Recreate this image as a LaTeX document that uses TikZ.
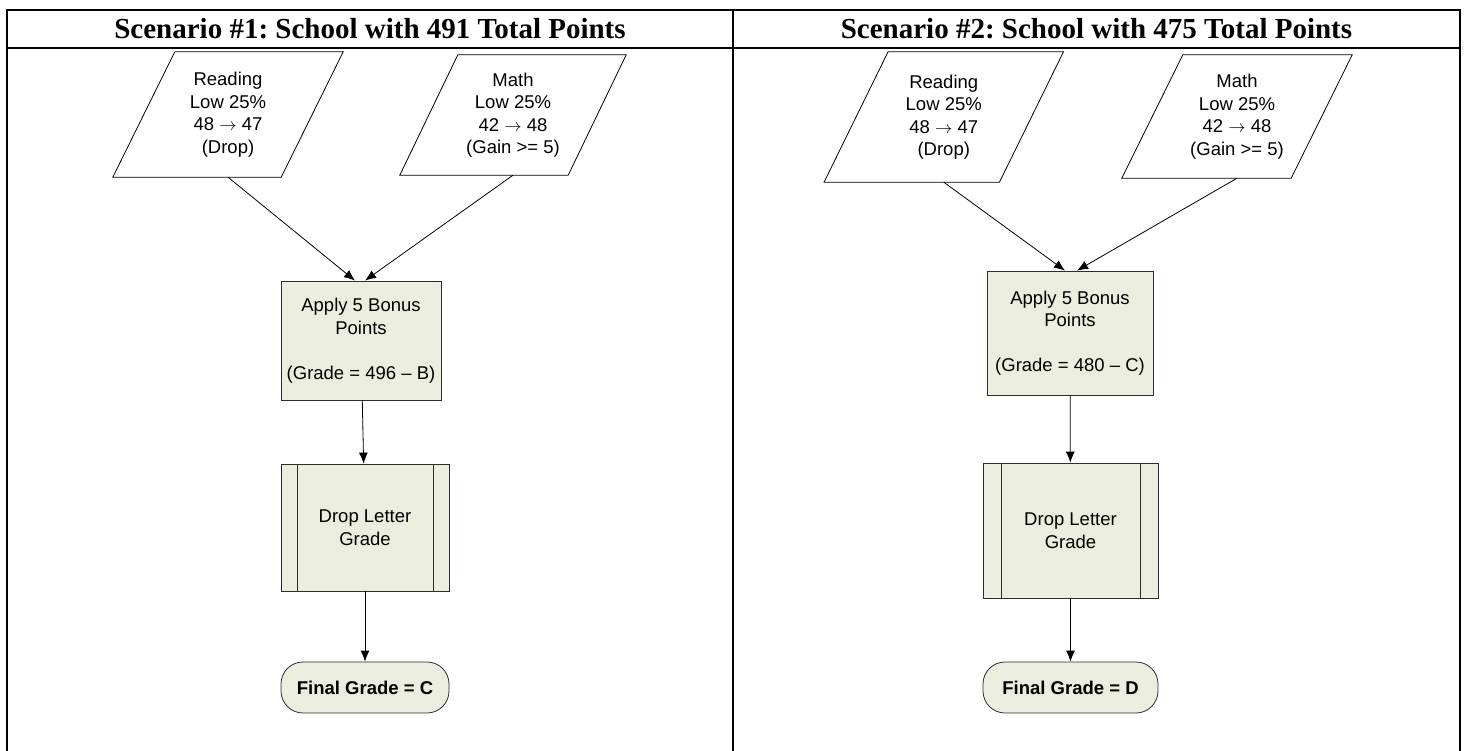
\documentclass[tikz,border=0pt]{standalone}
\usepackage{fontspec}
\setmainfont{Liberation Sans}
\newfontfamily\headfont{Liberation Serif}
\usetikzlibrary{arrows.meta}
\definecolor{boxfill}{RGB}{235,238,222}
\definecolor{boxline}{RGB}{45,45,45}
\frenchspacing
\tikzset{>={Latex[length=11pt,width=9pt]}}
\tikzset{
    every node/.style={font={\fontsize{18.5}{22.5}\selectfont}, align=center, inner sep=0pt},
    head/.style={font={\headfont\bfseries\fontsize{29}{32}\selectfont}, anchor=base},
    databox/.style={rectangle},
    procbox/.style={draw=boxline, fill=boxfill, line width=0.8pt},
    subbox/.style={procbox, path picture={
        \draw[boxline, line width=0.8pt] ([xshift=#1]path picture bounding box.north west) -- ([xshift=#1]path picture bounding box.south west);
        \draw[boxline, line width=0.8pt] ([xshift=-#1]path picture bounding box.north east) -- ([xshift=-#1]path picture bounding box.south east);
    }},
    endbox/.style={procbox, rounded corners=22pt, font={\bfseries\fontsize{18.5}{22.5}\selectfont}},
    flow/.style={->, line width=0.8pt},
    grid/.style={line width=2pt}
}
% slanted outline round a data node
\newcommand{\slantbox}[2]{%
    \draw[line width=0.8pt] ([xshift=#2]#1.north west) -- ([xshift=#2]#1.north east)
        -- ([xshift=-#2]#1.south east) -- ([xshift=-#2]#1.south west) -- cycle;}

\begin{document}
\begin{tikzpicture}[x=1pt, y=-1pt]
\useasboundingbox (0,0) rectangle (1466,751);

% table
\draw[grid] (7,751) -- (7,10) -- (1460,10) -- (1460,751);
\draw[grid] (7,48) -- (1460,48);
\draw[grid] (733,10) -- (733,751);

\node[head] (t1) at (370,39) {Scenario \#1: School with 491 Total Points};
\node[head] (t2) at (1096.5,39) {Scenario \#2: School with 475 Total Points};

% scenario 1
\begin{scope}
    \node[databox, minimum width=168pt, minimum height=125pt] (rd1) at (228,114.5) {Reading\\Low 25\%\\48 $\rightarrow$ 47\\(Drop)};
    \slantbox{rd1}{31pt}
    \node[databox, minimum width=168pt, minimum height=120pt] (mt1) at (513,115) {Math\\Low 25\%\\42 $\rightarrow$ 48\\(Gain >= 5)};
    \slantbox{mt1}{29pt}

    \node[procbox, minimum width=160pt, minimum height=119pt] (ap1) at (361,340.5) {Apply 5 Bonus\\Points\\[22.5pt](Grade = 496 – B)};
    \node[subbox=16pt, minimum width=168pt, minimum height=127pt] (dl1) at (365,527.5) {Drop Letter\\Grade};
    \node[endbox, minimum width=168pt, minimum height=51pt] (fg1) at (365,687.5) {Final Grade = C};

    \draw[flow] (rd1.south) -- ([xshift=-6pt]ap1.north);
    \draw[flow] (mt1.south) -- ([xshift=4pt]ap1.north);
    \draw[flow] (ap1) -- (dl1);
    \draw[flow] (dl1) -- (fg1);
\end{scope}

% scenario 2
\begin{scope}
    \node[databox, minimum width=175pt, minimum height=130pt] (rd2) at (943.75,117) {Reading\\Low 25\%\\48 $\rightarrow$ 47\\(Drop)};
    \slantbox{rd2}{32pt}
    \node[databox, minimum width=169pt, minimum height=123pt] (mt2) at (1237,116.5) {Math\\Low 25\%\\42 $\rightarrow$ 48\\(Gain >= 5)};
    \slantbox{mt2}{30.5pt}

    \node[procbox, minimum width=166pt, minimum height=124pt] (ap2) at (1070,333) {Apply 5 Bonus\\Points\\[22.5pt](Grade = 480 – C)};
    \node[subbox=18pt, minimum width=175pt, minimum height=135pt] (dl2) at (1070.5,530.5) {Drop Letter\\Grade};
    \node[endbox, minimum width=175pt, minimum height=51pt] (fg2) at (1070.5,687.5) {Final Grade = D};

    \draw[flow] (rd2.south) -- ([xshift=-5pt]ap2.north);
    \draw[flow] (mt2.south) -- ([xshift=7pt]ap2.north);
    \draw[flow] (ap2) -- (dl2);
    \draw[flow] (dl2) -- (fg2);
\end{scope}

\end{tikzpicture}
\end{document}
